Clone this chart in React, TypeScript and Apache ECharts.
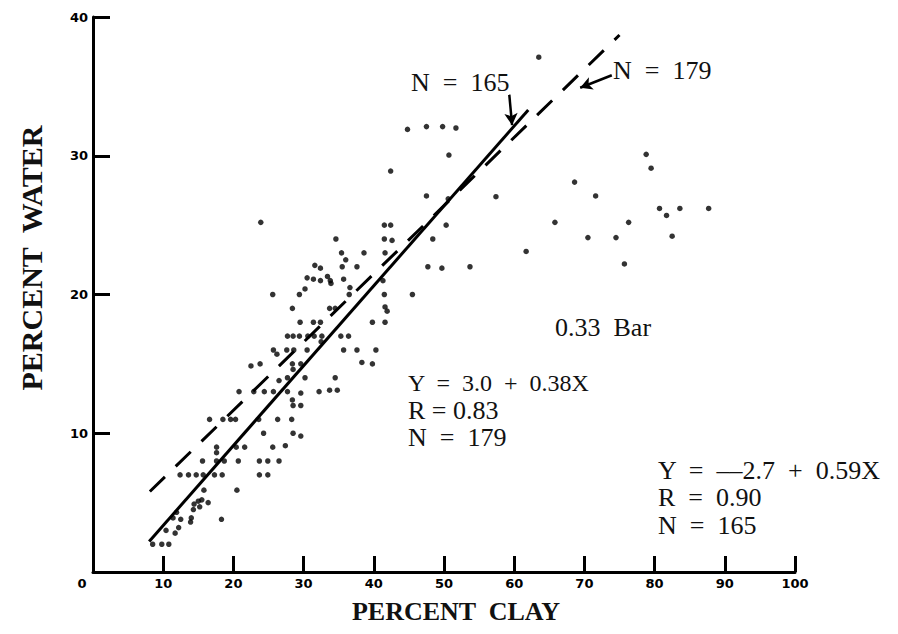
import React, { useEffect, useRef } from "react";
import * as echarts from "echarts";

// ---- data ----
const xTicks = [0, 10, 20, 30, 40, 50, 60, 70, 80, 90, 100];
const yTicks = [0, 10, 20, 30, 40];

// scatter points: [percent clay, percent water]
const samples: number[][] = [
  [8.5, 2.0], [9.8, 2.0], [10.8, 2.0], [10.4, 3.0], [11.7, 2.8], [12.2, 3.2],
  [11.4, 3.9], [12.5, 3.8], [14.0, 3.9], [13.9, 3.6], [11.9, 4.3], [14.3, 4.5],
  [15.2, 4.7], [15.0, 5.1], [15.5, 5.2], [16.4, 5.0], [14.4, 4.9], [18.3, 3.8],
  [15.8, 5.9], [12.4, 7], [13.6, 7], [14.7, 7], [15.7, 7], [17.3, 7], [18.4, 7],
  [15.6, 8], [17.6, 8], [18.7, 8], [20.7, 8], [20.5, 5.9], [17.6, 9.0], [17.6, 8.6],
  [20.4, 9.0], [21.6, 9.0], [16.6, 11], [18.5, 11], [19.6, 11], [20.3, 11],
  [23.7, 8], [24.9, 8], [26.5, 8], [23.7, 7], [24.9, 7], [24.3, 10], [25.6, 9.0],
  [27.4, 9.1], [23.6, 11], [26.3, 11], [28.3, 11], [28.5, 10], [29.6, 9.8],
  [28.5, 12], [29.6, 12], [28.4, 12.4], [20.8, 13], [22.9, 13], [24.4, 13],
  [25.7, 13], [27.7, 13], [29.6, 12.9], [32.2, 13], [33.7, 13.1], [34.8, 13.1],
  [26.5, 13.8], [27.7, 14.0], [30.2, 14.0], [34.5, 14.0], [22.5, 14.85], [23.8, 15.0],
  [28.4, 15.0], [28.5, 14.6], [29.6, 15.0], [38.3, 15.1], [39.8, 15.0], [25.7, 16],
  [26.2, 15.7], [27.6, 16], [28.6, 16], [30.5, 16], [35.7, 16], [37.6, 16], [40.3, 16],
  [27.7, 17], [28.5, 17], [29.4, 17], [30.6, 17], [31.5, 17], [32.6, 17], [32.5, 16.6],
  [35.3, 17], [36.4, 17], [29.5, 18], [31.4, 18], [32.4, 18], [39.8, 18], [41.6, 18],
  [28.4, 19], [33.7, 19], [34.5, 19], [41.6, 19.1], [41.9, 18.8], [25.6, 20],
  [29.4, 20], [30.2, 20.4], [36.5, 20], [36.6, 20.5], [41.5, 20], [45.5, 20],
  [30.5, 21.2], [31.4, 21.1], [32.4, 21.0], [33.4, 21.3], [33.8, 21.0], [33.9, 20.8],
  [35.7, 21.1], [31.6, 22.1], [32.4, 21.9], [35.5, 22], [37.6, 22], [35.4, 23],
  [36.0, 22.5], [38.6, 23], [41.6, 23], [34.6, 24], [41.5, 24], [42.6, 23.9],
  [41.5, 25], [42.4, 25], [23.9, 25.2], [42.4, 28.9], [44.8, 31.9], [47.5, 32.1],
  [49.8, 32.1], [51.7, 32.0], [50.7, 30.05], [47.5, 27.1], [50.6, 26.9], [57.4, 27.05],
  [50.3, 25.0], [48.4, 24.0], [47.7, 22.0], [49.7, 21.9], [53.7, 22.0], [63.5, 37.1],
  [68.6, 28.1], [71.6, 27.1], [78.8, 30.1], [79.5, 29.1], [65.8, 25.2], [61.7, 23.1],
  [70.5, 24.1], [74.5, 24.1], [76.3, 25.2], [75.7, 22.2], [80.7, 26.2], [81.7, 25.7],
  [83.6, 26.2], [87.7, 26.2], [82.5, 24.2], [41.3, 21.0],
];

// regression lines as drawn (end points)
const fit165: number[][] = [[8, 2.2], [62, 33.3]];
const fit179: number[][] = [[8.1, 5.8], [75, 38.7]];

// arrows pointing at the lines
const arrow165: number[][] = [[59.3, 34.4], [59.7, 32.2]];
const arrow179: number[][] = [[73.9, 35.8], [69.4, 34.9]];

const xTitle = "PERCENT  CLAY";
const yTitle = "PERCENT  WATER";
const label165 = "N  =  165";
const label179 = "N  =  179";
const barLabel = "0.33  Bar";
const eq179 = ["Y  =  3.0  +  0.38X", "R = 0.83", "N  =  179"];
const eq165 = ["Y  =  \u2013\u20132.7  +  0.59X", "R  =  0.90", "N  =  165"];

export default function App() {
  const ref = useRef<HTMLDivElement>(null);

  useEffect(() => {
    if (!ref.current) return;
    const chart = echarts.init(ref.current, undefined, { renderer: "svg" });
    const serif = "'Liberation Serif', 'Times New Roman', serif";
    const sans = "'DejaVu Sans', sans-serif";
    const annFont = 26;

    const txt = (text: string, x: number, y: number, extra: any = {}) => ({
      type: "text",
      x,
      y,
      silent: true,
      style: {
        text,
        fill: "#111",
        fontFamily: serif,
        fontSize: annFont,
        align: "left",
        verticalAlign: "middle",
        ...extra,
      },
    });

    const option: any = {
      animation: false,
      backgroundColor: "#fff",
      grid: { left: 93, right: 103, top: 17, bottom: 62, containLabel: false },
      xAxis: {
        type: "value",
        min: xTicks[0],
        max: xTicks[xTicks.length - 1],
        interval: 10,
        splitLine: { show: false },
        axisLine: { show: true, onZero: false, lineStyle: { color: "#000", width: 3 } },
        axisTick: { show: true, inside: true, length: 16, lineStyle: { color: "#000", width: 3 } },
        axisLabel: {
          margin: 5,
          color: "#000",
          fontFamily: sans,
          fontWeight: "bold",
          fontSize: 13,
          formatter: (v: number) => (v === 0 ? "{z|0}" : String(v)),
          rich: { z: { padding: [0, 22, 0, 0], fontFamily: sans, fontWeight: "bold", fontSize: 13, color: "#000" } },
        },
      },
      yAxis: {
        type: "value",
        min: yTicks[0],
        max: yTicks[yTicks.length - 1],
        interval: 10,
        splitLine: { show: false },
        axisLine: { show: true, onZero: false, lineStyle: { color: "#000", width: 3 } },
        axisTick: { show: true, inside: true, length: 17, lineStyle: { color: "#000", width: 3 } },
        axisLabel: {
          margin: 5,
          color: "#000",
          fontFamily: sans,
          fontWeight: "bold",
          fontSize: 13,
          formatter: (v: number) => (v === 0 ? "" : String(v)),
        },
      },
      series: [
        {
          type: "scatter",
          data: samples,
          symbol: "circle",
          symbolSize: 5.5,
          itemStyle: { color: "#000" },
          silent: true,
        },
        {
          type: "line",
          data: fit165,
          showSymbol: false,
          symbol: "none",
          lineStyle: { color: "#000", width: 3 },
          silent: true,
        },
        {
          type: "line",
          data: fit179,
          showSymbol: false,
          symbol: "none",
          lineStyle: { color: "#000", width: 3, type: [21, 15] },
          silent: true,
        },
        {
          type: "line",
          data: [],
          silent: true,
          markLine: {
            silent: true,
            symbol: ["none", "arrow"],
            symbolSize: [10, 12],
            label: { show: false },
            lineStyle: { color: "#000", width: 2.5, type: "solid" },
            data: [
              [{ coord: arrow165[0] }, { coord: arrow165[1] }],
              [{ coord: arrow179[0] }, { coord: arrow179[1] }],
            ],
          },
        },
      ],
      graphic: [
        txt(label165, 411, 82),
        txt(label179, 613, 70),
        txt(barLabel, 555, 327),
        txt(eq179[0], 408, 383, { fontSize: 24 }),
        txt(eq179[1], 408, 410),
        txt(eq179[2], 408, 437),
        txt(eq165[0], 658, 470),
        txt(eq165[1], 658, 497),
        txt(eq165[2], 658, 525),
        txt(xTitle, 456, 611, { fontWeight: "bold", fontSize: 26, align: "center" }),
        {
          type: "text",
          x: 31,
          y: 258,
          rotation: Math.PI / 2,
          silent: true,
          style: {
            text: yTitle,
            fill: "#111",
            fontFamily: serif,
            fontWeight: "bold",
            fontSize: 30,
            align: "center",
            verticalAlign: "middle",
          },
        },
      ],
    };

    chart.setOption(option);
    return () => chart.dispose();
  }, []);

  return (
    <div
      ref={ref}
      style={{ position: "absolute", left: 0, top: 0, width: 898, height: 634, background: "#fff" }}
    />
  );
}
